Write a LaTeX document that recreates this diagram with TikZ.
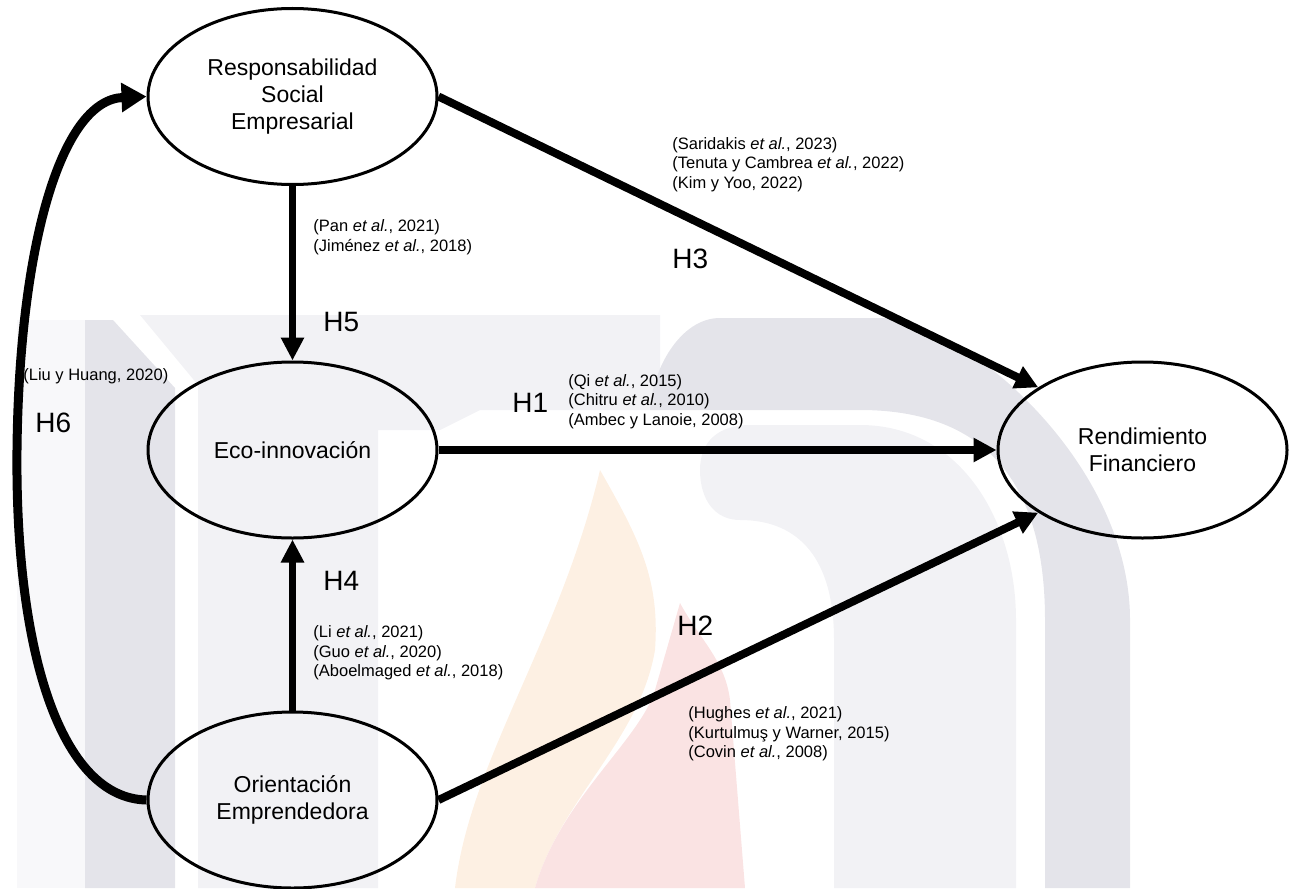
\documentclass[tikz,border=0pt]{standalone}
\usepackage{fontspec}
\setmainfont{Liberation Sans}
\usetikzlibrary{arrows.meta,shapes.geometric}

% faint background emblem
\definecolor{wmdark}{HTML}{E4E4EA}
\definecolor{wmlight}{HTML}{F2F2F5}
\definecolor{wmpale}{HTML}{F8F8FA}
\definecolor{flameorange}{HTML}{FDF0E3}
\definecolor{flamepink}{HTML}{FAE3E3}

\begin{document}
\begin{tikzpicture}[x=0.5pt,y=-0.5pt,
  construct/.style={draw, line width=1.5pt, ellipse, minimum width=144.5pt,
    minimum height=88pt, inner sep=0pt, align=center,
    font=\fontsize{11.5}{13.5}\selectfont},
  link/.style={line width=4pt, -{Triangle[length=11.5pt,width=11.5pt]}},
  vlink/.style={line width=3.5pt, -{Triangle[length=11.5pt,width=11pt]}},
  hyp/.style={font=\fontsize{14}{16}\selectfont, anchor=base west, inner sep=0pt},
  cite/.style={font=\fontsize{8.25}{9.75}\selectfont, align=left, anchor=west, inner sep=0pt},
]
\useasboundingbox (0,0) rectangle (1294,888);

% ---- background emblem ----
\fill[wmpale] (17,320) rectangle (85,888);
\fill[wmdark] (85,320) -- (113,320) -- (175,388) -- (175,888) -- (85,888) -- cycle;
\fill[wmlight] (140,315) -- (660,315) -- (660,410) -- (480,410) -- (440,430) -- (378,430)
  -- (378,888) -- (198,888) -- (198,385) -- cycle;
\fill[wmdark] (650,410) .. controls (652,370) and (680,318) .. (720,318) -- (880,318)
  .. controls (960,318) and (1130,460) .. (1130,620) -- (1130,888) -- (1045,888)
  -- (1045,620) .. controls (1045,500) and (1000,410) .. (860,410) -- cycle;
\fill[wmlight] (700,470) .. controls (700,440) and (720,425) .. (750,425) -- (860,425)
  .. controls (960,425) and (1016,520) .. (1016,620) -- (1016,888) -- (834,888)
  -- (834,640) .. controls (834,560) and (800,520) .. (740,520)
  .. controls (715,520) and (700,500) .. (700,470) -- cycle;
\fill[flameorange] (455,888) .. controls (470,760) and (560,640) .. (600,470)
  .. controls (640,540) and (660,580) .. (655,650)
  .. controls (640,740) and (560,800) .. (535,888) -- cycle;
\fill[flamepink] (535,888) .. controls (560,800) and (640,740) .. (655,690) -- (680,603)
  .. controls (700,640) and (725,660) .. (730,700) -- (745,888) -- cycle;

% ---- constructs ----
\node[construct] (rse)  at (292.5,96.5) {Responsabilidad\\Social\\Empresarial};
\node[construct] (eco)  at (292.5,450)  {Eco-innovación};
\node[construct] (oe)   at (292.5,800)  {Orientación\\Emprendedora};
\node[construct] (rend) at (1142.5,450) {Rendimiento\\Financiero};

% ---- hypothesised paths ----
\coordinate (h6mid) at (17,450);
\draw[line width=4.5pt, -{Triangle[length=12.5pt,width=14pt]}]
  (oe.west) .. controls (60,798) and (15,650) .. (h6mid)
  .. controls (19,250) and (60,100) .. (rse.west);
\draw[vlink] (rse) -- (eco);
\draw[vlink] (oe) -- (eco);
\draw[link] (eco) -- (rend);
\draw[link] (rse.east) -- (rend.149);
\draw[link] (oe.east) -- (rend.211);

% ---- hypothesis labels ----
\node[hyp] (h5) at (323,331) {H5};
\node[hyp] (h4) at (323,590) {H4};
\node[hyp] (h6) at (35,432)  {H6};
\node[hyp] (h1) at (512,412) {H1};
\node[hyp] (h3) at (672,268) {H3};
\node[hyp] (h2) at (677,635) {H2};

% ---- supporting references ----
\node[cite] (c5) at (313,237.3) {(Pan \textit{et al.}, 2021)\\(Jiménez \textit{et al.}, 2018)};
\node[cite] (c3) at (672,164.3) {(Saridakis \textit{et al.}, 2023)\\(Tenuta y Cambrea \textit{et al.}, 2022)\\(Kim y Yoo, 2022)};
\node[cite] (c1) at (568,401.3) {(Qi \textit{et al.}, 2015)\\(Chitru \textit{et al.}, 2010)\\(Ambec y Lanoie, 2008)};
\node[cite] (c4) at (313,652.8) {(Li \textit{et al.}, 2021)\\(Guo \textit{et al.}, 2020)\\(Aboelmaged \textit{et al.}, 2018)};
\node[cite] (c2) at (688,733.8) {(Hughes \textit{et al.}, 2021)\\(Kurtulmuş y Warner, 2015)\\(Covin \textit{et al.}, 2008)};
\node[cite, anchor=base west] (c6) at (23,380) {(Liu y Huang, 2020)};
\end{tikzpicture}
\end{document}
